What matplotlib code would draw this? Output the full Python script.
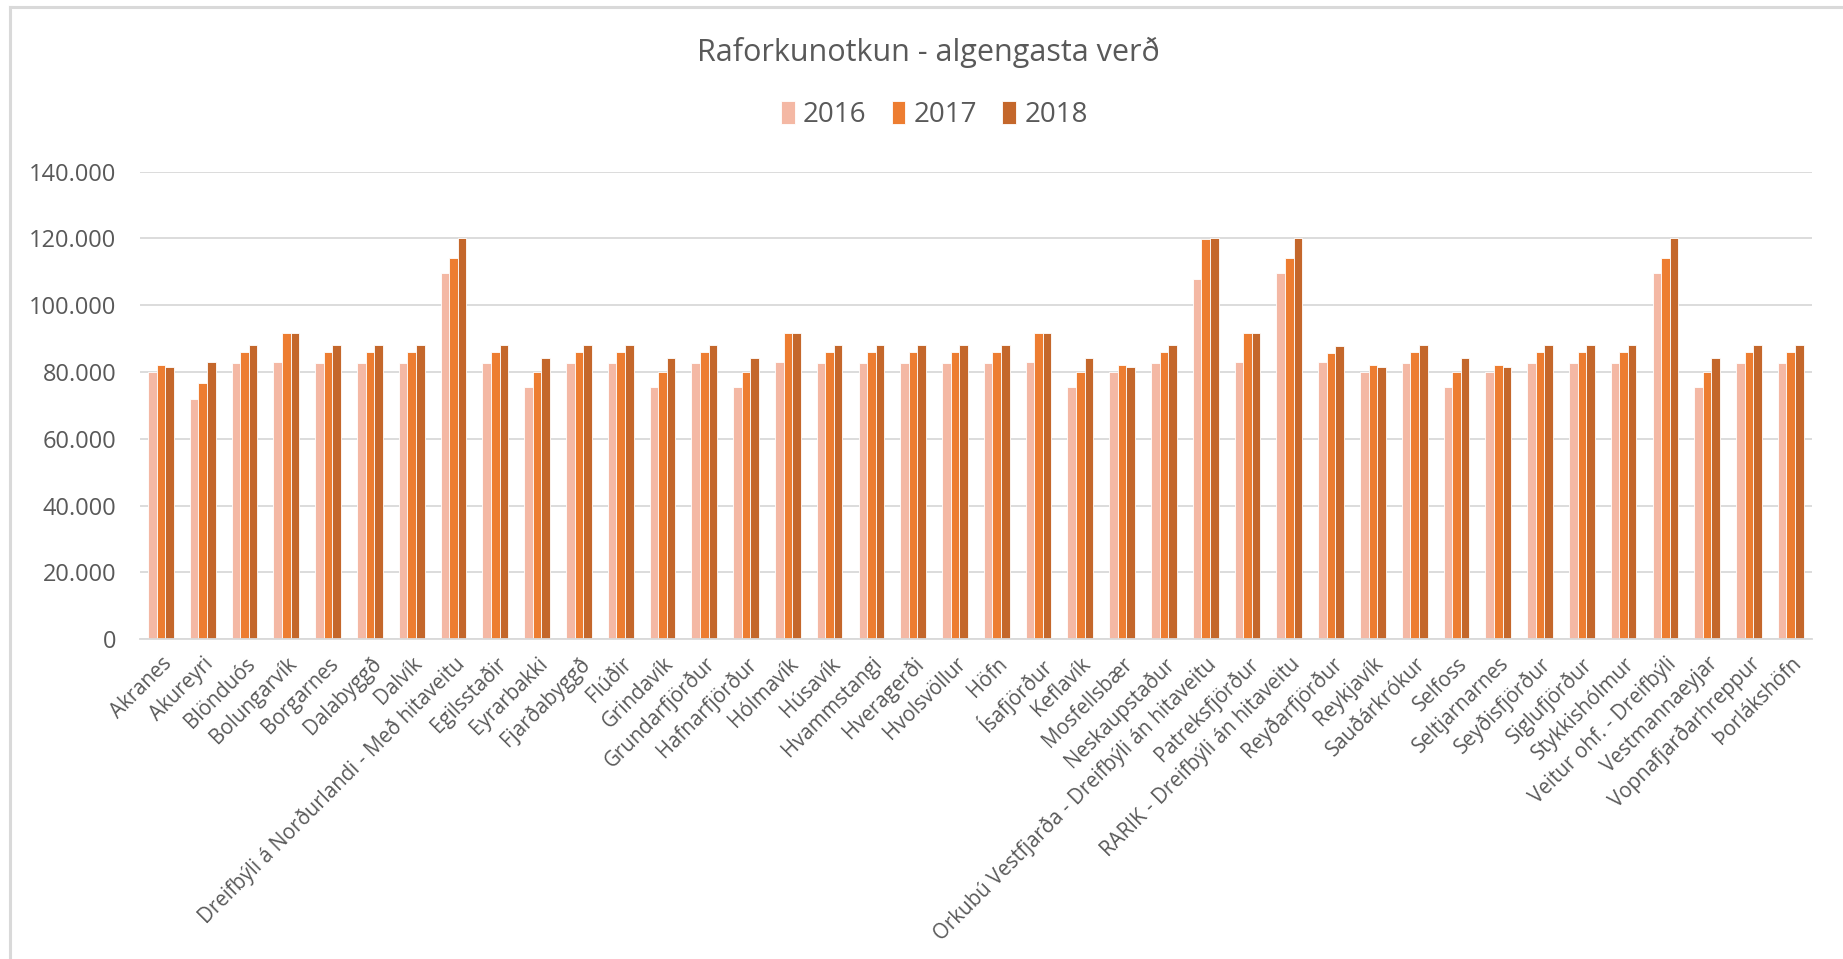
import matplotlib
matplotlib.use("Agg")
import matplotlib.pyplot as plt
from matplotlib.ticker import FuncFormatter, FixedLocator
from matplotlib.lines import Line2D
import numpy as np

categories = [
    "Akranes", "Akureyri", "Blönduós", "Bolungarvík", "Borgarnes", "Dalabyggð", "Dalvík",
    "Dreifbýli á Norðurlandi - Með hitaveitu", "Egilsstaðir", "Eyrarbakki", "Fjarðabyggð",
    "Flúðir", "Grindavík", "Grundarfjörður", "Hafnarfjörður", "Hólmavík", "Húsavík",
    "Hvammstangi", "Hveragerði", "Hvolsvöllur", "Höfn", "Ísafjörður", "Keflavík",
    "Mosfellsbær", "Neskaupstaður", "Orkubú Vestfjarða - Dreifbýli án hitaveitu",
    "Patreksfjörður", "RARIK - Dreifbýli án hitaveitu", "Reyðarfjörður", "Reykjavík",
    "Sauðárkrókur", "Selfoss", "Seltjarnarnes", "Seyðisfjörður", "Siglufjörður",
    "Stykkishólmur", "Veitur ohf. - Dreifbýli", "Vestmannaeyjar", "Vopnafjarðarhreppur",
    "Þorlákshöfn",
]

v2016 = [80100, 72000, 82600, 83000, 82600, 82600, 82600, 109800, 82600, 75600, 82600,
         82600, 75600, 82600, 75600, 83000, 82600, 82600, 82600, 82600, 82600, 83000, 75600,
         80100, 82600, 108000, 83000, 109800, 83000, 80100, 82600, 75600, 80100, 82600,
         82600, 82600, 109800, 75600, 82600, 82600]
v2017 = [82200, 76600, 85900, 91800, 85900, 85900, 85900, 114300, 85900, 80100, 85900,
         85900, 80100, 85900, 80100, 91800, 85900, 85900, 85900, 85900, 85900, 91800, 80100,
         82200, 85900, 119800, 91800, 114300, 85600, 82200, 85900, 80100, 82200, 85900,
         85900, 85900, 114300, 80100, 85900, 85900]
v2018 = [81400, 83000, 88100, 91800, 88100, 88100, 88100, 120100, 88100, 84100, 88100,
         88100, 84100, 88100, 84100, 91800, 88100, 88100, 88100, 88100, 88100, 91800, 84100,
         81400, 88100, 120100, 91800, 120100, 87700, 81400, 88100, 84100, 81400, 88100,
         88100, 88100, 120100, 84100, 88100, 88100]
series_names = ["2016", "2017", "2018"]
y_ticks = [0, 20000, 40000, 60000, 80000, 100000, 120000, 140000]

colors = ["#F4B8A4", "#ED7D31", "#C4672B"]
text_color = "#595959"
grid_color = "#D9D9D9"

plt.rcParams["font.family"] = ["Open Sans", "DejaVu Sans"]

fig = plt.figure(figsize=(18.43, 9.59), dpi=100)
ax = fig.add_axes([0.076, 0.3334, 0.907, 0.4876])

x = np.arange(len(categories))
w = 0.205
for i, (vals, name, c) in enumerate(zip([v2016, v2017, v2018], series_names, colors)):
    ax.bar(x + (i - 1) * w, vals, width=w, color=c, edgecolor="white", linewidth=0.6,
           label=name, zorder=3)

ax.set_xlim(-0.5, len(categories) - 0.5)
ax.set_ylim(0, 140000)
ax.yaxis.set_major_locator(FixedLocator(y_ticks))
ax.yaxis.set_major_formatter(FuncFormatter(lambda v, p: f"{int(v):,}".replace(",", ".")))
ax.grid(axis="y", color=grid_color, linewidth=1.3, zorder=0)
for s in ["top", "right", "left"]:
    ax.spines[s].set_visible(False)
ax.spines["bottom"].set_color(grid_color)
ax.spines["bottom"].set_linewidth(1.3)
ax.spines["bottom"].set_zorder(4)

ax.tick_params(axis="y", length=0, pad=17, labelsize=17, labelcolor=text_color)
ax.tick_params(axis="x", length=0, pad=10, labelsize=14.8, labelcolor=text_color)
ax.set_xticks(x)
ax.set_xticklabels(categories, rotation=45, ha="right", rotation_mode="anchor")

fig.text(0.504, 0.945, "Raforkunotkun - algengasta verð", ha="center", va="center",
         fontsize=22, color=text_color)

leg = fig.legend(loc="center", bbox_to_anchor=(0.507, 0.88), ncol=3, frameon=False,
                 fontsize=20, handlelength=0.5, handleheight=0.85, handletextpad=0.3,
                 columnspacing=0.9, labelcolor=text_color)

# outer chart border (top and left)
fig.add_artist(Line2D([9.5 / 1843, 9.5 / 1843], [0, 1 - 6.5 / 959], transform=fig.transFigure,
                      color="#D9D9D9", linewidth=2.2))
fig.add_artist(Line2D([9.5 / 1843, 1], [1 - 6.5 / 959, 1 - 6.5 / 959], transform=fig.transFigure,
                      color="#D9D9D9", linewidth=2.2))

fig.savefig("out.png", dpi=100, facecolor="white")
